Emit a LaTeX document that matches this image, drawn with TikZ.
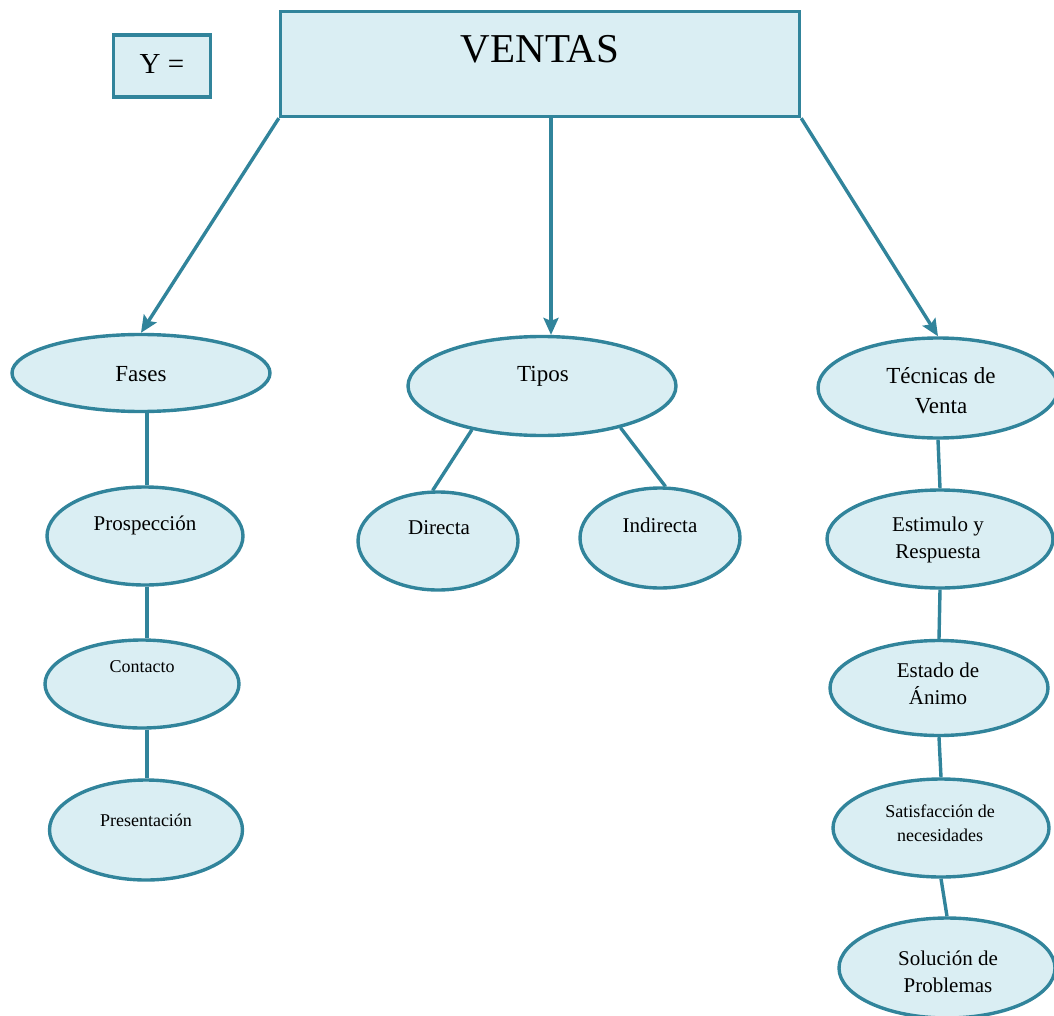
\documentclass[tikz,border=0pt]{standalone}
\usepackage{fontspec}
\setmainfont{Liberation Serif}
\usetikzlibrary{shapes.geometric,arrows.meta,calc}
\definecolor{edge}{HTML}{31849B}
\definecolor{fillc}{HTML}{DAEEF3}
\begin{document}
\begin{tikzpicture}[x=1pt,y=-1pt,
  box/.style={draw=edge,fill=fillc,line width=3.4pt,inner sep=0pt},
  ell/.style={ellipse,draw=edge,fill=fillc,line width=3.4pt,inner sep=0pt},
  btxt/.style={font=\fontsize{23}{30}\selectfont,inner sep=0pt,align=center},
  txt/.style={font=\fontsize{21}{27}\selectfont,inner sep=0pt,align=center},
  stxt/.style={font=\fontsize{18}{24}\selectfont,inner sep=0pt,align=center},
  conn/.style={draw=edge,line width=3.4pt},
  arr/.style={conn,-{Stealth[length=17pt,width=15pt,inset=3pt]}}]
\useasboundingbox (0,0) rectangle (1054,1016);
% top boxes
\node[box,minimum width=97pt,minimum height=62pt] (y) at (162,66) {};
\node[font=\fontsize{29}{29}\selectfont,inner sep=0pt,anchor=base] (yT) at (162,74) {Y =};
\node[box,minimum width=519pt,minimum height=105pt] (ventas) at (540,64) {};
\node[font=\fontsize{41}{41}\selectfont,inner sep=0pt,anchor=base] (ventasT) at (540,63) {VENTAS};
% level 1
\node[ell,minimum width=258pt,minimum height=77pt] (fases) at (141,373) {};
\node[btxt,anchor=base] (fasesT) at (141,381) {Fases};
\node[ell,minimum width=268pt,minimum height=99pt] (tipos) at (542,386) {};
\node[btxt,anchor=base] (tiposT) at (543,381) {Tipos};
\node[ell,minimum width=240pt,minimum height=100pt] (tecnicas) at (938,388) {};
\node[btxt] (tecnicasT) at (941,391) {Técnicas de\\Venta};
% left column
\node[ell,minimum width=196pt,minimum height=98pt] (prosp) at (145,536) {};
\node[txt,anchor=base] (prospT) at (145,530) {Prospección};
\node[ell,minimum width=194pt,minimum height=88pt] (contacto) at (142,684) {};
\node[stxt,anchor=base] (contactoT) at (142,672) {Contacto};
\node[ell,minimum width=193pt,minimum height=100pt] (present) at (146,830) {};
\node[stxt,anchor=base] (presentT) at (146,826) {Presentación};
% middle
\node[ell,minimum width=160pt,minimum height=98pt] (directa) at (438,541) {};
\node[txt,anchor=base] (directaT) at (439,534) {Directa};
\node[ell,minimum width=160pt,minimum height=100pt] (indirecta) at (660,538) {};
\node[txt,anchor=base] (indirectaT) at (660,532) {Indirecta};
% right column
\node[ell,minimum width=226pt,minimum height=98pt] (estimulo) at (940,539) {};
\node[txt] (estimuloT) at (938,540) {Estimulo y\\Respuesta};
\node[ell,minimum width=218pt,minimum height=95pt] (estado) at (939,688) {};
\node[txt] (estadoT) at (938,684) {Estado de\\Ánimo};
\node[ell,minimum width=216pt,minimum height=98pt] (satis) at (941,828) {};
\node[stxt] (satisT) at (940,823) {Satisfacción de\\necesidades};
\node[ell,minimum width=216pt,minimum height=100pt] (solucion) at (947,968) {};
\node[txt] (solucionT) at (948,972) {Solución de\\Problemas};
% arrows
\draw[arr] (ventas.south west) -- (fases.north);
\draw[arr] (ventas.south -| tipos.80) -- (tipos.80);
\draw[arr] (ventas.south east) -- (tecnicas.north);
% connectors
\draw[conn] ($(fases.south)+(6,0)$) -- ($(prosp.north)+(2,0)$);
\draw[conn] ($(prosp.south)+(2,0)$) -- ($(contacto.north)+(5,0)$);
\draw[conn] ($(contacto.south)+(5,0)$) -- ($(present.north)+(1,0)$);
\draw[conn] (tipos.212) -- (directa.96);
\draw[conn] (tipos.-28) -- (indirecta.84);
\draw[conn] (tecnicas.south) -- (estimulo.north);
\draw[conn] (estimulo.south) -- (estado.north);
\draw[conn] (estado.south) -- (satis.north);
\draw[conn] (satis.south) -- (solucion.north);
\end{tikzpicture}
\end{document}
